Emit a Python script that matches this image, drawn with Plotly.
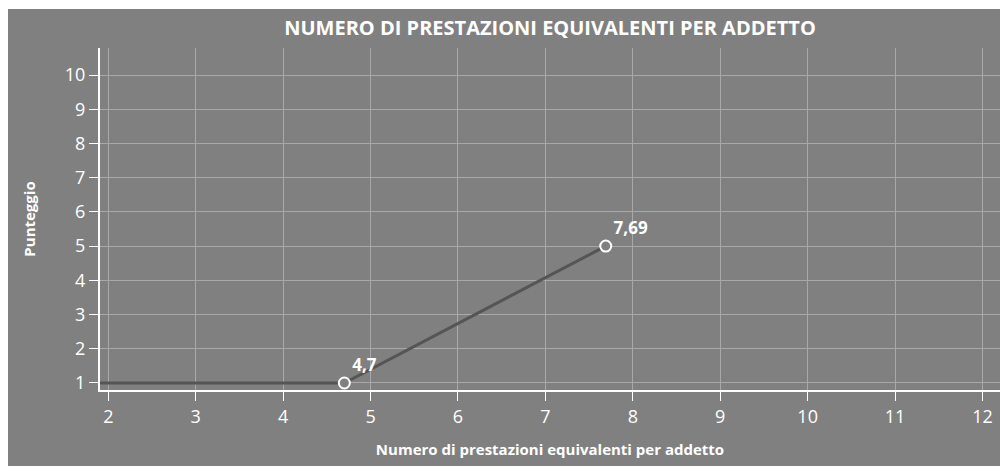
"""Punteggio vs numero di prestazioni equivalenti per addetto."""
import plotly.graph_objs as go

# data
line_x = [0, 4.7, 7.69]
line_y = [1, 1, 5]
point_x = [4.7, 7.69]
point_y = [1, 5]
point_labels = ["4,7", "7,69"]

x_ticks = list(range(2, 13))
y_ticks = list(range(1, 11))

bg = '#808080'
grid = '#a9a9a9'

fig = go.Figure()
fig.add_trace(go.Scatter(x=line_x, y=line_y, mode='lines',
                         line=dict(color='#555555', width=3),
                         hoverinfo='skip', showlegend=False))
fig.add_trace(go.Scatter(x=point_x, y=point_y, mode='markers+text',
                         text=point_labels, textposition='top right',
                         textfont=dict(family='Open Sans', size=17, color='white',
                                       weight='bold'),
                         marker=dict(symbol='circle', size=11, color=bg,
                                     line=dict(color='white', width=2)),
                         showlegend=False))

axis_common = dict(showline=True, linecolor='white', linewidth=2,
                   showgrid=True, gridcolor=grid, gridwidth=1,
                   ticks='outside', tickcolor='white', ticklen=9, tickwidth=1,
                   tickfont=dict(family='Open Sans', size=18, color='white'),
                   zeroline=False)

fig.update_layout(
    width=992, height=457,
    margin=dict(l=92, r=0, t=39, b=76),
    paper_bgcolor=bg, plot_bgcolor=bg,
    title=dict(text='NUMERO DI PRESTAZIONI EQUIVALENTI PER ADDETTO',
               font=dict(family='Open Sans', size=20, color='white',
                         weight='bold'),
               x=0.5, xref='paper', xanchor='center',
               y=0.958, yanchor='middle'),
    xaxis=dict(axis_common, range=[1.905, 12.2], tickvals=x_ticks,
               title=dict(text='Numero di prestazioni equivalenti per addetto',
                          font=dict(family='Open Sans', size=15, color='white',
                                    weight='bold'),
                          standoff=18)),
    yaxis=dict(axis_common, range=[0.795, 10.79], tickvals=y_ticks,
               title=dict(text='Punteggio',
                          font=dict(family='Open Sans', size=15, color='white',
                                    weight='bold'),
                          standoff=26)),
)

# the chart runs to the window's right and bottom edges, like the original
page_css = ("document.documentElement.style.overflow='hidden';"
            "document.body.style.overflow='hidden';"
            "document.body.style.margin='9px 0 0 8px';")
fig.write_html("out.html", config={'responsive': False}, post_script=page_css)
